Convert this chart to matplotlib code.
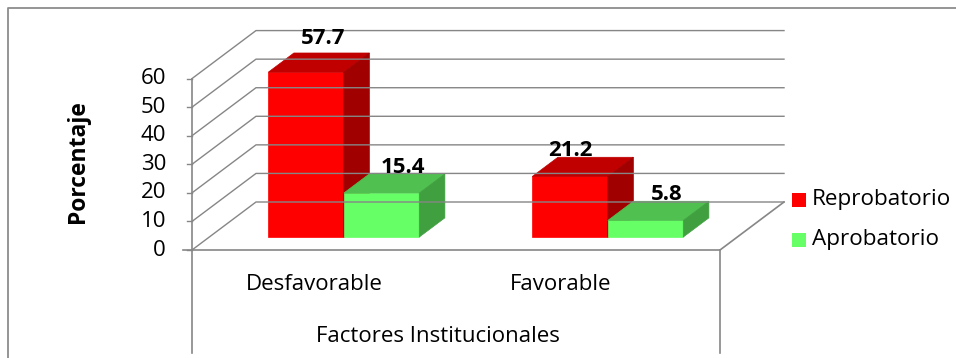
import matplotlib.pyplot as plt
from matplotlib.patches import Polygon, Rectangle

plt.rcParams['font.family'] = ['Open Sans', 'DejaVu Sans']

# data
categories = ['Desfavorable', 'Favorable']
series = ['Reprobatorio', 'Aprobatorio']
reprobatorio = [57.7, 21.2]
aprobatorio = [15.4, 5.8]
yticks = [0, 10, 20, 30, 40, 50, 60]

# face colours: front, top, side
colors = {
    'Reprobatorio': ('#ff0000', '#c00000', '#a00000'),
    'Aprobatorio': ('#66ff66', '#50c050', '#40a040'),
}

# layout (x in pixels, y in value units)
PPV = 2.857            # pixels per percent
W, H = 956, 358
FLOOR_Y = 250          # pixel row of value 0 at the front
X_LEFT, X_RIGHT = 192, 720
DEPTH_DX = 64          # full depth offset in x
DEPTH_DY = 48 / PPV    # full depth offset in value units
BAR_D0 = 0.27          # depth where bar front faces stand
BAR_D = 0.40           # bar depth
BAR_W = 75.5
GRID = '#868686'
FS = 16

fig = plt.figure(figsize=(W / 100, H / 100), dpi=100)
ax = fig.add_axes([0, 0, 1, 1])
ax.set_xlim(0, W)
ax.set_ylim((FLOOR_Y - H) / PPV, FLOOR_Y / PPV)
ax.axis('off')

# outer chart border
ax.plot([8 / W, 8 / W, 1], [0, 1 - 8 / H, 1 - 8 / H], transform=ax.transAxes,
        color='#8c8c8c', lw=1.3, solid_capstyle='butt')

bx0, bx1 = X_LEFT + DEPTH_DX, X_RIGHT + DEPTH_DX
# walls: side gridlines and back gridlines
for v in yticks:
    ax.plot([X_LEFT, bx0, bx1], [v, v + DEPTH_DY, v + DEPTH_DY], color=GRID, lw=1.0)
    ax.plot([X_LEFT - 5, X_LEFT], [v, v], color=GRID, lw=1.0)
    ax.text(X_LEFT - 26, v, str(v), ha='right', va='center', fontsize=FS)

# floor and front box
bottom = (FLOOR_Y - 353) / PPV
ax.plot([X_LEFT, X_LEFT], [yticks[-1], bottom], color=GRID, lw=1.2)
ax.plot([X_LEFT - 9, X_RIGHT, bx1], [0, 0, DEPTH_DY], color=GRID, lw=1.2)
ax.plot([X_RIGHT, X_RIGHT], [0, bottom], color=GRID, lw=1.2)


def bar3d(x, w, v, cols):
    y0 = BAR_D0 * DEPTH_DY
    dx, dy = BAR_D * DEPTH_DX, BAR_D * DEPTH_DY
    front = [(x, y0), (x + w, y0), (x + w, y0 + v), (x, y0 + v)]
    top = [(x, y0 + v), (x + w, y0 + v), (x + w + dx, y0 + v + dy), (x + dx, y0 + v + dy)]
    side = [(x + w, y0), (x + w + dx, y0 + dy), (x + w + dx, y0 + v + dy), (x + w, y0 + v)]
    for pts, c in zip([front, top, side], cols):
        ax.add_patch(Polygon(pts, closed=True, facecolor=c, edgecolor=c, lw=0.5))


cat_w = (X_RIGHT - X_LEFT) / len(categories)
x0 = X_LEFT + BAR_D0 * DEPTH_DX + 2.5
label_dx = [[17.5, 21.5], [0, 21]]
label_dy = [[3.3, 0.3], [0.3, 0.3]]
for i, cat in enumerate(categories):
    cx = x0 + cat_w * (i + 0.5)
    for j, (name, vals) in enumerate(zip(series, [reprobatorio, aprobatorio])):
        xl = cx - BAR_W + j * BAR_W
        bar3d(xl, BAR_W, vals[i], colors[name])
        ytop = BAR_D0 * DEPTH_DY + vals[i] + BAR_D * DEPTH_DY
        ax.text(xl + BAR_W / 2 + label_dx[i][j], ytop + label_dy[i][j], f'{vals[i]:.1f}',
                ha='center', va='baseline', fontsize=FS, fontweight='bold')

# category labels and axis titles
cat_x = [314, 561]
for x, cat in zip(cat_x, categories):
    ax.text(x, (FLOOR_Y - 285) / PPV, cat, ha='center', va='center', fontsize=FS)
ax.text(438, (FLOOR_Y - 337) / PPV, 'Factores Institucionales', ha='center', va='center', fontsize=FS)
ax.text(78, (FLOOR_Y - 162) / PPV, 'Porcentaje', ha='center', va='center', rotation=90,
        fontsize=16.5, fontweight='bold')

# legend
for k, name in enumerate(series):
    yc = (FLOOR_Y - (200 + 40 * k)) / PPV
    ax.add_patch(Rectangle((792, yc - 7 / PPV), 14, 14 / PPV, facecolor=colors[name][0],
                           edgecolor='none'))
    ax.text(812, yc, name, ha='left', va='center', fontsize=16.2)

fig.savefig('out.png', dpi=100)
